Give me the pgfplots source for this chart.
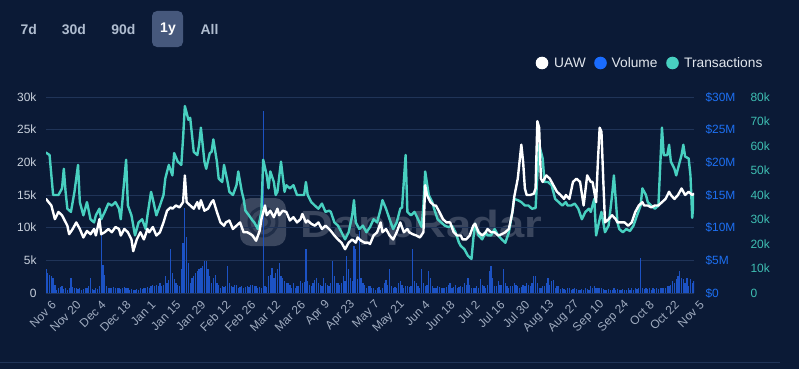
\documentclass[border=0pt]{standalone}
\usepackage{pgfplots}
\pgfplotsset{compat=1.18}
\usepackage{pgfplotstable}
\usepackage{fontspec}
\setmainfont{Liberation Sans}
\definecolor{bg}{RGB}{11,26,54}
\definecolor{gridc}{RGB}{32,52,88}
\definecolor{txteal}{RGB}{72,208,192}
\definecolor{tealtxt}{RGB}{62,190,178}
\definecolor{volbar}{RGB}{28,82,196}
\definecolor{voltxt}{RGB}{29,111,242}
\definecolor{legblue}{RGB}{26,108,255}
\definecolor{ticktxt}{RGB}{200,208,220}
\definecolor{xtxt}{RGB}{160,172,192}
\definecolor{btn}{RGB}{176,189,208}
\definecolor{btnbg}{RGB}{70,88,124}
\definecolor{wm}{RGB}{58,70,94}

% Volume, $M per day (day 0 = Nov 6)
\pgfplotstableread[row sep=\\]{
d v\\
0 3.6\\ 1 3.0\\ 2 2.8\\ 3 2.6\\ 4 2.3\\ 5 1.3\\ 6 0.5\\ 7 0.8\\ 8 0.9\\ 9 1.0\\
10 0.6\\ 11 0.7\\ 12 0.5\\ 13 0.8\\ 14 2.3\\ 15 0.9\\ 16 0.7\\ 17 0.8\\ 18 0.6\\ 19 0.7\\
20 0.5\\ 21 0.6\\ 22 0.8\\ 23 0.7\\ 24 1.0\\ 25 2.3\\ 26 0.6\\ 27 0.5\\ 28 0.8\\ 29 0.6\\
30 1.0\\ 31 9.5\\ 32 4.3\\ 33 2.7\\ 34 1.0\\ 35 0.8\\ 36 0.7\\ 37 0.8\\ 38 0.9\\ 39 0.8\\
40 0.7\\ 41 0.8\\ 42 0.6\\ 43 0.7\\ 44 0.9\\ 45 0.7\\ 46 0.8\\ 47 0.5\\ 48 0.6\\ 49 0.5\\
50 0.5\\ 51 0.6\\ 52 0.5\\ 53 0.7\\ 54 0.6\\ 55 0.8\\ 56 0.7\\ 57 0.9\\ 58 0.8\\ 59 1.0\\
60 1.2\\ 61 1.0\\ 62 1.3\\ 63 1.1\\ 64 1.5\\ 65 1.0\\ 66 1.3\\ 67 2.6\\ 68 1.5\\ 69 2.0\\
70 6.7\\ 71 3.1\\ 72 2.1\\ 73 1.5\\ 74 1.2\\ 75 1.0\\ 76 3.6\\ 77 7.7\\ 78 13.0\\ 79 8.5\\
80 4.6\\ 81 1.5\\ 82 2.3\\ 83 2.6\\ 84 3.1\\ 85 3.4\\ 86 3.6\\ 87 3.9\\ 88 4.2\\ 89 4.9\\
90 4.9\\ 91 3.6\\ 92 2.6\\ 93 1.5\\ 94 2.3\\ 95 2.8\\ 96 1.5\\ 97 1.2\\ 98 0.8\\ 99 1.0\\
100 0.9\\ 101 1.1\\ 102 4.1\\ 103 1.5\\ 104 1.0\\ 105 0.9\\ 106 1.2\\ 107 1.3\\ 108 0.8\\ 109 0.9\\
110 1.0\\ 111 0.8\\ 112 0.9\\ 113 1.0\\ 114 0.9\\ 115 1.2\\ 116 1.3\\ 117 1.1\\ 118 1.0\\ 119 0.8\\
120 0.9\\ 121 0.8\\ 122 27.8\\ 123 1.0\\ 124 0.9\\ 125 2.6\\ 126 2.8\\ 127 3.9\\ 128 2.3\\ 129 3.0\\
130 3.6\\ 131 4.6\\ 132 2.6\\ 133 2.3\\ 134 1.8\\ 135 1.6\\ 136 1.5\\ 137 1.3\\ 138 0.8\\ 139 1.5\\
140 0.8\\ 141 1.0\\ 142 1.1\\ 143 1.8\\ 144 1.5\\ 145 1.7\\ 146 6.7\\ 147 1.8\\ 148 1.2\\ 149 1.0\\
150 1.5\\ 151 2.0\\ 152 2.3\\ 153 1.5\\ 154 1.2\\ 155 1.0\\ 156 2.3\\ 157 1.5\\ 158 1.3\\ 159 1.0\\
160 1.5\\ 161 4.9\\ 162 2.6\\ 163 1.5\\ 164 1.5\\ 165 1.3\\ 166 1.5\\ 167 2.6\\ 168 1.8\\ 169 5.7\\
170 3.6\\ 171 2.3\\ 172 1.8\\ 173 7.2\\ 174 6.7\\ 175 2.1\\ 176 9.5\\ 177 2.3\\ 178 1.5\\ 179 1.2\\
180 0.8\\ 181 1.0\\ 182 1.0\\ 183 0.8\\ 184 0.8\\ 185 0.5\\ 186 0.8\\ 187 0.9\\ 188 0.5\\ 189 0.8\\
190 1.5\\ 191 2.0\\ 192 1.2\\ 193 3.6\\ 194 1.0\\ 195 0.8\\ 196 0.9\\ 197 0.8\\ 198 1.5\\ 199 1.8\\
200 1.2\\ 201 0.8\\ 202 1.0\\ 203 1.0\\ 204 0.9\\ 205 1.1\\ 206 6.7\\ 207 1.8\\ 208 1.5\\ 209 1.0\\
210 0.8\\ 211 3.6\\ 212 1.5\\ 213 1.0\\ 214 1.3\\ 215 3.4\\ 216 2.3\\ 217 1.0\\ 218 0.8\\ 219 0.8\\
220 1.0\\ 221 0.9\\ 222 0.8\\ 223 0.8\\ 224 0.8\\ 225 0.9\\ 226 1.3\\ 227 1.5\\ 228 0.8\\ 229 0.9\\
230 1.3\\ 231 0.8\\ 232 0.9\\ 233 1.0\\ 234 0.9\\ 235 1.5\\ 236 1.3\\ 237 2.3\\ 238 1.3\\ 239 0.8\\
240 0.8\\ 241 0.8\\ 242 1.0\\ 243 0.8\\ 244 2.1\\ 245 1.3\\ 246 1.0\\ 247 0.8\\ 248 1.3\\ 249 3.4\\
250 4.2\\ 251 2.3\\ 252 1.0\\ 253 1.0\\ 254 1.8\\ 255 1.3\\ 256 1.2\\ 257 3.6\\ 258 1.5\\ 259 1.0\\
260 0.8\\ 261 1.0\\ 262 1.0\\ 263 1.5\\ 264 1.2\\ 265 1.0\\ 266 0.8\\ 267 0.9\\ 268 1.3\\ 269 1.0\\
270 1.5\\ 271 1.2\\ 272 1.0\\ 273 1.5\\ 274 2.6\\ 275 2.6\\ 276 1.5\\ 277 0.8\\ 278 0.8\\ 279 1.0\\
280 1.0\\ 281 1.5\\ 282 2.3\\ 283 1.3\\ 284 1.8\\ 285 2.0\\ 286 0.8\\ 287 1.0\\ 288 1.0\\ 289 0.6\\
290 0.8\\ 291 0.6\\ 292 0.5\\ 293 0.7\\ 294 0.8\\ 295 0.5\\ 296 0.6\\ 297 0.8\\ 298 0.6\\ 299 0.5\\
300 0.5\\ 301 0.6\\ 302 0.5\\ 303 0.8\\ 304 0.6\\ 305 0.5\\ 306 1.0\\ 307 0.8\\ 308 1.0\\ 309 0.7\\
310 0.8\\ 311 0.8\\ 312 0.7\\ 313 0.6\\ 314 0.5\\ 315 0.5\\ 316 0.6\\ 317 0.5\\ 318 0.5\\ 319 0.8\\
320 0.5\\ 321 0.6\\ 322 0.5\\ 323 0.5\\ 324 0.6\\ 325 0.5\\ 326 0.5\\ 327 0.7\\ 328 0.5\\ 329 0.8\\
330 0.5\\ 331 0.8\\ 332 0.6\\ 333 0.7\\ 334 5.4\\ 335 0.8\\ 336 0.6\\ 337 0.7\\ 338 0.6\\ 339 0.8\\
340 0.5\\ 341 0.7\\ 342 0.6\\ 343 0.8\\ 344 0.6\\ 345 0.8\\ 346 0.8\\ 347 0.7\\ 348 0.8\\ 349 1.0\\
350 1.0\\ 351 1.3\\ 352 1.8\\ 353 1.5\\ 354 2.1\\ 355 2.6\\ 356 3.4\\ 357 2.3\\ 358 2.1\\ 359 1.5\\
360 2.3\\ 361 1.0\\ 362 2.1\\ 363 1.5\\ 364 1.8\\
}\voldata

% UAW, thousands
\pgfplotstableread[row sep=\\]{
d u\\
0 14.4\\ 3 13.4\\ 5 11.3\\ 7 12.4\\ 9 11.9\\ 12 10.3\\ 13 9.0\\ 15 9.8\\ 17 10.8\\ 19 9.8\\
21 8.5\\ 23 9.5\\ 25 9.0\\ 27 9.8\\ 28 8.8\\ 30 11.3\\ 31 9.0\\ 33 9.3\\ 35 9.8\\ 37 9.3\\
39 10.1\\ 41 9.8\\ 42 8.8\\ 44 9.8\\ 46 9.3\\ 48 8.2\\ 49 6.4\\ 51 8.2\\ 53 9.3\\ 55 8.2\\
57 9.8\\ 58 9.3\\ 60 10.1\\ 62 8.8\\ 64 9.3\\ 66 10.8\\ 68 12.6\\ 70 13.1\\ 71 12.9\\ 73 13.4\\
75 13.1\\ 77 13.9\\ 78 18.0\\ 79 13.9\\ 81 13.4\\ 83 12.9\\ 85 13.9\\ 86 12.9\\ 87 14.2\\ 89 12.6\\
91 12.9\\ 93 13.9\\ 94 14.2\\ 96 12.4\\ 98 10.8\\ 100 10.3\\ 101 10.8\\ 103 11.1\\ 105 9.8\\ 107 10.3\\
109 10.8\\ 111 9.3\\ 113 9.3\\ 115 9.0\\ 116 8.8\\ 118 8.0\\ 120 9.5\\ 121 11.3\\ 123 13.4\\ 124 11.9\\
126 12.6\\ 128 11.6\\ 130 12.9\\ 131 11.9\\ 133 12.6\\ 135 12.4\\ 137 11.1\\ 139 11.6\\ 141 10.8\\ 143 11.3\\
144 12.1\\ 146 10.8\\ 147 11.1\\ 149 10.6\\ 151 10.3\\ 153 10.8\\ 155 9.8\\ 157 10.3\\ 159 9.8\\ 160 9.5\\
162 8.8\\ 164 8.2\\ 166 7.7\\ 168 6.7\\ 170 7.7\\ 172 8.2\\ 174 7.7\\ 175 8.5\\ 177 8.0\\ 179 7.7\\
181 7.7\\ 182 7.5\\ 184 8.8\\ 186 9.3\\ 188 10.8\\ 189 9.3\\ 191 9.8\\ 193 8.8\\ 195 8.2\\ 197 9.3\\
199 10.8\\ 201 9.3\\ 203 9.8\\ 204 9.3\\ 206 9.0\\ 208 8.8\\ 210 8.5\\ 212 9.3\\ 213 16.5\\ 214 15.0\\
216 13.9\\ 218 13.4\\ 219 13.4\\ 221 12.4\\ 223 11.3\\ 225 10.8\\ 227 10.8\\ 229 9.3\\ 231 8.8\\ 233 8.8\\
234 8.2\\ 236 8.2\\ 238 8.8\\ 240 10.3\\ 241 10.6\\ 243 9.3\\ 245 8.8\\ 247 9.3\\ 248 9.8\\ 250 9.3\\
252 9.3\\ 254 8.8\\ 256 9.0\\ 258 9.3\\ 260 9.8\\ 262 12.4\\ 263 14.7\\ 265 17.5\\ 267 22.7\\ 268 20.1\\
269 16.0\\ 270 15.0\\ 272 15.0\\ 274 15.2\\ 275 16.0\\ 276 26.3\\ 277 25.3\\ 278 17.5\\ 279 17.0\\ 281 18.0\\
283 17.5\\ 285 16.5\\ 287 15.5\\ 289 15.0\\ 291 14.4\\ 292 15.0\\ 294 14.4\\ 296 17.0\\ 298 17.5\\ 300 17.0\\
302 13.4\\ 304 18.0\\ 306 17.0\\ 307 17.0\\ 309 13.9\\ 310 20.1\\ 311 25.3\\ 312 24.7\\ 313 17.5\\ 314 10.8\\
316 11.3\\ 318 11.9\\ 320 11.3\\ 321 10.8\\ 323 10.8\\ 325 10.8\\ 327 10.3\\ 329 10.8\\ 331 12.4\\ 333 13.4\\
335 13.9\\ 336 13.4\\ 338 13.4\\ 340 13.1\\ 342 13.4\\ 344 13.4\\ 346 13.9\\ 348 14.4\\ 350 15.5\\ 351 15.0\\
353 14.4\\ 355 15.0\\ 357 16.0\\ 359 15.0\\ 361 15.5\\ 363 15.0\\ 364 15.2\\
}\uawdata

% Transactions, thousands
\pgfplotstableread[row sep=\\]{
d t\\
0 57.3\\ 2 56.3\\ 4 40.0\\ 7 40.0\\ 9 42.7\\ 10 50.7\\ 11 41.3\\ 12 34.4\\ 14 33.1\\ 16 41.3\\
18 52.3\\ 19 37.1\\ 21 31.7\\ 23 37.1\\ 25 30.1\\ 27 28.8\\ 28 31.7\\ 30 34.4\\ 31 30.1\\ 33 33.1\\
35 36.5\\ 37 35.7\\ 39 37.1\\ 41 34.4\\ 42 30.1\\ 45 54.4\\ 46 35.7\\ 48 31.7\\ 50 23.5\\ 52 28.8\\
54 30.1\\ 56 26.1\\ 57 31.7\\ 59 41.3\\ 60 38.4\\ 62 31.7\\ 64 35.7\\ 66 40.0\\ 67 46.7\\ 69 52.3\\
71 48.0\\ 72 57.1\\ 74 53.6\\ 76 52.3\\ 77 63.2\\ 78 76.3\\ 80 70.7\\ 81 71.5\\ 83 57.6\\ 85 56.3\\
86 60.5\\ 87 67.5\\ 89 53.6\\ 90 50.7\\ 92 57.1\\ 93 57.6\\ 94 62.7\\ 96 53.6\\ 97 46.7\\ 99 45.3\\
100 52.3\\ 102 45.3\\ 103 41.3\\ 105 40.0\\ 107 44.0\\ 108 49.6\\ 110 41.3\\ 111 38.4\\ 112 33.6\\ 114 31.7\\
116 29.6\\ 117 28.8\\ 119 26.1\\ 121 33.1\\ 122 54.4\\ 124 48.0\\ 125 42.7\\ 126 49.6\\ 128 45.3\\ 129 40.0\\
130 41.3\\ 132 53.6\\ 134 41.3\\ 135 44.0\\ 137 42.7\\ 139 44.0\\ 141 40.0\\ 143 40.0\\ 145 40.0\\ 146 45.3\\
147 40.0\\ 149 37.1\\ 151 35.7\\ 153 34.4\\ 155 36.5\\ 157 33.1\\ 159 33.6\\ 160 33.1\\ 162 28.8\\ 164 27.5\\
166 24.8\\ 168 21.9\\ 170 24.8\\ 172 31.7\\ 173 37.9\\ 174 28.8\\ 176 26.1\\ 178 27.5\\ 180 24.8\\ 182 26.9\\
184 30.1\\ 186 28.8\\ 188 34.4\\ 189 37.9\\ 191 34.4\\ 193 30.1\\ 195 26.1\\ 197 28.8\\ 199 34.4\\ 200 34.9\\
202 56.3\\ 203 33.1\\ 205 31.7\\ 207 33.1\\ 209 30.1\\ 211 26.9\\ 212 35.7\\ 213 49.6\\ 215 40.0\\ 217 37.1\\
218 34.4\\ 220 30.1\\ 222 28.8\\ 224 27.5\\ 226 26.9\\ 228 27.5\\ 230 24.8\\ 232 20.5\\ 233 19.2\\ 235 17.9\\
237 15.2\\ 239 13.9\\ 240 21.9\\ 241 28.3\\ 243 23.5\\ 245 21.9\\ 247 24.8\\ 248 23.5\\ 250 23.5\\ 252 26.1\\
254 23.5\\ 256 21.9\\ 258 20.5\\ 260 24.8\\ 262 33.1\\ 263 38.4\\ 265 37.9\\ 267 37.1\\ 269 35.7\\ 271 35.7\\
273 34.4\\ 275 34.7\\ 276 48.0\\ 277 60.5\\ 279 54.9\\ 280 45.3\\ 282 45.3\\ 284 44.0\\ 286 38.4\\ 288 37.1\\
290 35.7\\ 292 37.1\\ 293 35.7\\ 295 35.7\\ 297 36.5\\ 299 34.4\\ 301 30.1\\ 303 33.1\\ 305 34.4\\ 306 33.1\\
308 38.4\\ 309 23.5\\ 311 30.1\\ 312 33.1\\ 314 24.8\\ 316 27.5\\ 318 40.0\\ 319 48.0\\ 321 28.8\\ 322 26.1\\
324 24.8\\ 326 26.1\\ 328 25.3\\ 330 27.5\\ 332 31.7\\ 334 35.7\\ 335 42.7\\ 337 40.0\\ 338 37.1\\ 340 35.7\\
342 34.4\\ 344 35.7\\ 346 67.5\\ 347 56.3\\ 349 56.3\\ 350 60.5\\ 351 53.6\\ 353 50.7\\ 354 48.0\\ 356 53.6\\
357 56.3\\ 358 60.5\\ 359 55.7\\ 361 54.9\\ 362 48.0\\ 363 30.7\\ 364 40.0\\
}\txdata

\pgfplotsset{
  common/.style={
    at={(46bp,76bp)}, anchor=origin,
    width=648bp, height=196bp, scale only axis,
    xmin=0, xmax=364,
    axis line style={draw=none},
    major tick length=0pt,
  },
}

\begin{document}
\begin{tikzpicture}[x=1bp,y=1bp]
\fill[bg] (0,0) rectangle (799,369);

% range buttons
\fill[btnbg, rounded corners=5bp] (152,322) rectangle (183,358);
\begin{scope}[every node/.style={font=\bfseries\fontsize{14}{16}\selectfont, text=btn, inner sep=0pt}]
\node at (28.7,339.5) {7d};
\node at (73.8,339.5) {30d};
\node at (123.5,339.5) {90d};
\node[text=white] at (168,339.5) {1y};
\node at (209.5,339.5) {All};
\end{scope}

% legend
\fill[white] (542,306) circle (6.3);
\fill[legblue] (600.5,306) circle (6.3);
\fill[txteal] (672.5,306) circle (6.3);
\begin{scope}[every node/.style={font=\fontsize{13.8}{16}\selectfont, text={rgb,255:red,226;green,231;blue,238}, inner sep=0pt, anchor=west}]
\node at (554,306) {UAW};
\node at (611.5,306) {Volume};
\node at (684,306) {Transactions};
\end{scope}

% watermark
\fill[wm, rounded corners=11bp] (240,123) rectangle (286,171);
\draw[bg!55!wm, line width=3bp] (263,147) circle (14);
\draw[bg!55!wm, line width=3bp] (263,147) circle (6.5);
\node[anchor=base west, inner sep=0pt, text=wm, font=\bfseries\fontsize{38}{40}\selectfont, xscale=1.2] at (300,132) {DappRadar};

% bottom separator
\draw[gridc, line width=0.8bp] (0,6.5) -- (780,6.5);

% Volume axis (grid, x labels, $ labels)
\begin{axis}[common,
  ymin=0, ymax=30,
  ymajorgrids, grid style={gridc, line width=0.7bp},
  ytick={0,5,...,30},
  yticklabels={\$0,\$5M,\$10M,\$15M,\$20M,\$25M,\$30M},
  yticklabel pos=right,
  yticklabel style={anchor=west, text=voltxt, font=\fontsize{12}{14}\selectfont, xshift=8bp},
  xtick={0,14,...,364},
  xticklabels={Nov 6,Nov 20,Dec 4,Dec 18,Jan 1,Jan 15,Jan 29,Feb 12,Feb 26,Mar 12,Mar 26,Apr 9,Apr 23,May 7,May 21,Jun 4,Jun 18,Jul 2,Jul 16,Jul 30,Aug 13,Aug 27,Sep 10,Sep 24,Oct 8,Oct 22,Nov 5},
  xticklabel style={xshift=8bp, yshift=-10bp, rotate=45, anchor=east, text=xtxt, font=\fontsize{12}{14}\selectfont, inner sep=0pt},
]
\addplot[ycomb, volbar, line width=1.25bp, mark=none] table[x=d, y=v] {\voldata};
\end{axis}

% Transactions axis
\begin{axis}[common,
  ymin=0, ymax=80,
  xtick=\empty,
  ytick={0,10,...,80},
  yticklabels={0,10k,20k,30k,40k,50k,60k,70k,80k},
  yticklabel pos=right,
  yticklabel style={anchor=west, text=tealtxt, font=\fontsize{12}{14}\selectfont, xshift=53bp},
]
\addplot[txteal, line width=2.4bp, line join=round, line cap=round, mark=none] table[x=d, y=t] {\txdata};
\end{axis}

% UAW axis
\begin{axis}[common,
  ymin=0, ymax=30,
  xtick=\empty,
  ytick={0,5,...,30},
  yticklabels={0,5k,10k,15k,20k,25k,30k},
  yticklabel pos=left,
  yticklabel style={anchor=east, text=ticktxt, font=\fontsize{12}{14}\selectfont, xshift=-6bp},
]
\addplot[white, line width=2.4bp, line join=round, line cap=round, mark=none] table[x=d, y=u] {\uawdata};
\foreach \yy in {0,5,...,30} {\edef\tmp{\noexpand\draw[gridc, line width=0.7bp] (axis cs:0,\yy) ++(-7bp,0) -- ++(6bp,0);}\tmp}
\end{axis}

\pgfresetboundingbox
\useasboundingbox (0,0) rectangle (799,369);
\end{tikzpicture}
\end{document}
